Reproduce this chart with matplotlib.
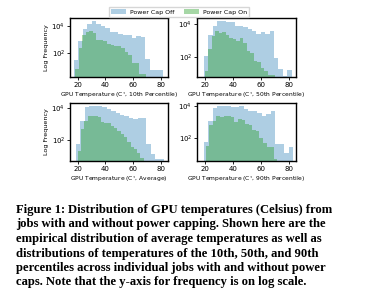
import numpy as np
import matplotlib.pyplot as plt
from matplotlib.ticker import FixedLocator, NullLocator

# per-panel histogram counts (20 bins each)
panel_labels = ["10th Percentile", "50th Percentile", "Average", "90th Percentile"]

off_ranges = [(17.3, 81.4), (19.3, 81.9), (18.8, 82.2), (19.3, 82.9)]
on_ranges = [(18.3, 69.0), (20.0, 69.7), (20.2, 67.5), (20.7, 71.7)]

off_p10 = [33, 790, 6000, 14000, 23000, 14000, 10000, 7600, 3800, 3500,
           2500, 2200, 2200, 1400, 1800, 1600, 39, 6, 6, 6]
on_p10 = [7, 260, 2200, 3800, 4300, 3000, 1000, 900, 800, 450,
          400, 350, 320, 260, 125, 80, 20, 19, 3, 3]

off_p50 = [110, 2100, 7600, 15000, 15000, 12600, 12600, 6900, 6900, 6000,
           4700, 3400, 2500, 3100, 2500, 3900, 80, 17, 7, 15]
on_p50 = [13, 300, 1700, 3700, 2700, 3100, 2000, 1300, 1200, 900,
          1300, 660, 220, 180, 54, 45, 21, 13, 8, 8]

off_avg = [60, 1600, 11000, 13200, 13200, 13200, 11000, 8300, 6500, 4700,
           3700, 3200, 2300, 2000, 2300, 2300, 58, 14, 7, 7]
on_avg = [23, 480, 1600, 3000, 3000, 3000, 2600, 1400, 1200, 1100,
          780, 560, 350, 250, 155, 72, 37, 28, 16, 8]

off_p90 = [50, 1200, 7900, 11000, 11000, 11000, 9100, 9100, 11000, 7100,
           5200, 4800, 3700, 2600, 3200, 5200, 39, 39, 10, 24]
on_p90 = [29, 660, 1200, 2500, 2100, 2500, 2300, 2100, 1070, 1550,
          1260, 760, 660, 320, 270, 91, 48, 26, 26, 4]

off_counts = [off_p10, off_p50, off_avg, off_p90]
on_counts = [on_p10, on_p50, on_avg, on_p90]

ylims = [(1.8, 39000), (5.9, 22400), (5.2, 19500), (3.2, 16600)]

caption = [
    ("Figure 1: ", "Distribution of GPU temperatures (Celsius) from"),
    ("", "jobs with and without power capping. Shown here are the"),
    ("", "empirical distribution of average temperatures as well as"),
    ("", "distributions of temperatures of the 10th, 50th, and 90th"),
    ("", "percentiles across individual jobs with and without power"),
    ("", "caps. Note that the y-axis for frequency is on log scale."),
]

W, H = 377, 305
fig = plt.figure(figsize=(W / 100, H / 100), dpi=100)

# axes rectangles in pixels: left, top, width, height
rects = [(70, 18, 98, 59), (197, 18, 99, 59), (70, 103, 98, 58), (197, 103, 99, 58)]

def hist_panel(ax, lo, hi, counts, color, alpha, label):
    edges = np.linspace(lo, hi, len(counts) + 1)
    centers = (edges[:-1] + edges[1:]) / 2
    return ax.hist(centers, bins=edges, weights=counts, color=color,
                   alpha=alpha, label=label)

for i, (l, t, w, h) in enumerate(rects):
    ax = fig.add_axes([l / W, 1 - (t + h) / H, w / W, h / H])
    hist_panel(ax, *off_ranges[i], off_counts[i], "C0", 0.36, "Power Cap Off")
    hist_panel(ax, *on_ranges[i], on_counts[i], "C2", 0.42, "Power Cap On")
    ax.set_yscale("log")
    ax.set_ylim(*ylims[i])
    ax.set_xlim(14.5, 85)
    ax.xaxis.set_major_locator(FixedLocator([20, 40, 60, 80]))
    ax.yaxis.set_major_locator(FixedLocator([1e2, 1e4]))
    ax.yaxis.set_minor_locator(NullLocator())
    ax.tick_params(labelsize=5, length=2, width=0.6, pad=1.5)
    for s in ax.spines.values():
        s.set_linewidth(1.0)
    ax.set_xlabel(f"GPU Temperature (C$^{{\\circ}}$, {panel_labels[i]})",
                  fontsize=4.3, labelpad=1.5)
    if i % 2 == 0:
        ax.set_ylabel("Log Frequency", fontsize=4.6, labelpad=1.5)
    if i == 0:
        handles, labels = ax.get_legend_handles_labels()

fig.legend(handles, labels, loc="center", bbox_to_anchor=(179 / W, 1 - 12 / H),
           ncol=2, fontsize=4.5, frameon=True, fancybox=False,
           handlelength=2.5, borderpad=0.3, columnspacing=1.5,
           handletextpad=0.6, edgecolor="0.8")

y0 = 213
for k, (head, body) in enumerate(caption):
    y = 1 - (y0 + k * 14.5) / H
    x = 16 / W
    if head:
        t = fig.text(x, y, head, fontsize=9.1, family="Liberation Serif",
                     weight="bold", va="baseline")
        fig.canvas.draw()
        bb = t.get_window_extent()
        x = bb.x1 / W
    fig.text(x, y, body, fontsize=9.1, family="Liberation Serif",
             weight="bold", va="baseline")

fig.savefig("out.png", dpi=100)
